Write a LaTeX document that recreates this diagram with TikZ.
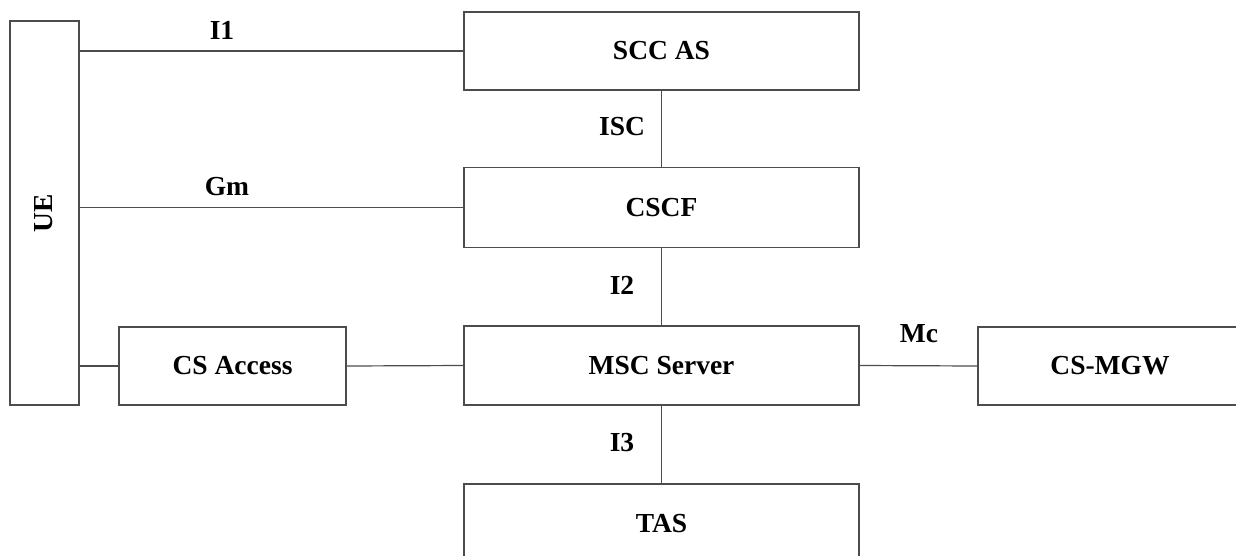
\documentclass[tikz,border=0pt]{standalone}
\usepackage{fontspec}
\setmainfont{Liberation Serif}
\begin{document}
\begin{tikzpicture}[x=1pt,y=-1pt,
  box/.style={draw=black!70, line width=1.2pt, fill=none, inner sep=0pt, font=\fontsize{27.5}{30}\selectfont\bfseries},
  conn/.style={draw=black!70, line width=1.2pt},
  lbl/.style={inner sep=0pt, font=\fontsize{27.5}{30}\selectfont\bfseries}]
\useasboundingbox (0,0) rectangle (1236,555);
\clip (0,0) rectangle (1236,555);
\node[box, minimum width=69pt, minimum height=384pt] (ue) at (44.5,213) {};
\node[lbl, rotate=90] (uet) at (44,213) {UE};
\node[box, minimum width=395pt, minimum height=78pt] (scc) at (661.5,51) {SCC AS};
\node[box, minimum width=395pt, minimum height=80pt] (cscf) at (661.5,207.5) {CSCF};
\node[box, minimum width=395pt, minimum height=79pt] (msc) at (661.5,365.5) {MSC Server};
\node[box, minimum width=395pt, minimum height=79pt] (tas) at (661.5,523.5) {TAS};
\node[box, minimum width=227pt, minimum height=78pt] (csa) at (232.5,366) {CS Access};
\node[box, minimum width=264pt, minimum height=78pt] (mgw) at (1110,366) {CS-MGW};
\draw[conn] (scc.west) -- (scc.west -| ue.east);
\draw[conn] (cscf.west) -- (cscf.west -| ue.east);
\draw[conn] (csa.west) -- (csa.west -| ue.east);
\draw[conn] (csa.east) -- (msc.west);
\draw[conn] (msc.east) -- (mgw.west);
\draw[conn] (scc.south) -- (cscf.north);
\draw[conn] (cscf.south) -- (msc.north);
\draw[conn] (msc.south) -- (tas.north);
\node[lbl] (l1) at (222,30) {I1};
\node[lbl] (lgm) at (227,187) {Gm};
\node[lbl] (lisc) at (622,127) {ISC};
\node[lbl] (li2) at (622,285) {I2};
\node[lbl] (li3) at (622,443) {I3};
\node[lbl] (lmc) at (919,334) {Mc};
\end{tikzpicture}
\end{document}
